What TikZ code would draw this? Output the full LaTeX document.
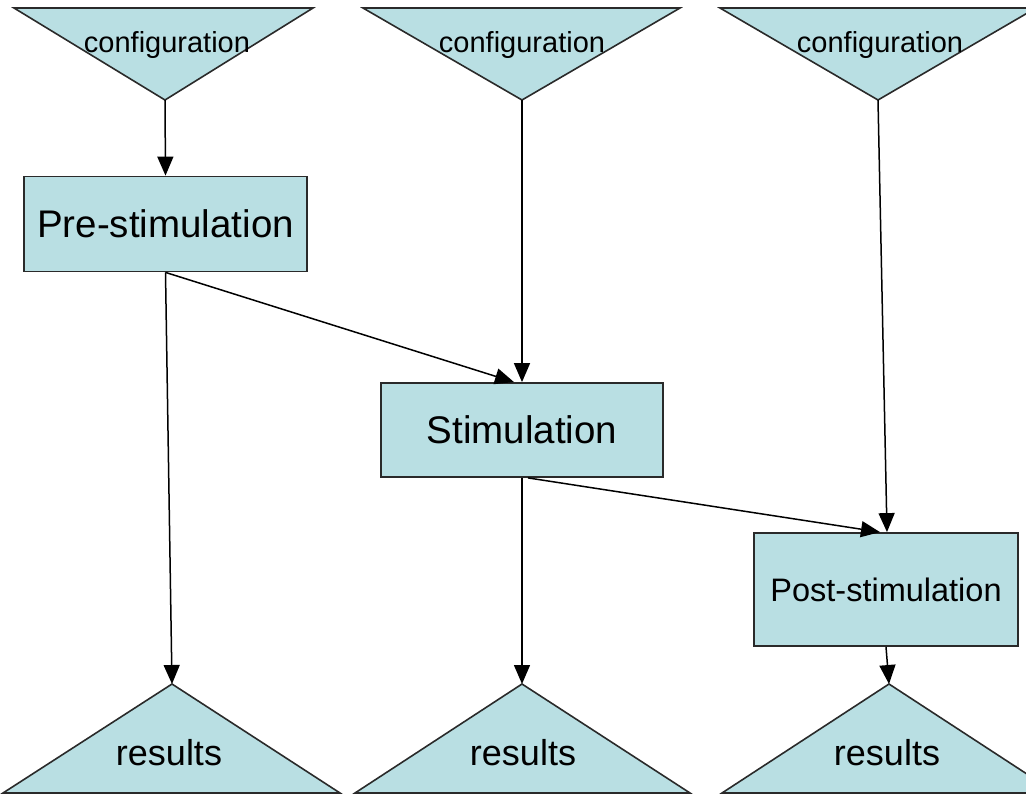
\documentclass[tikz,border=0pt]{standalone}
\usepackage{fontspec}
\setmainfont{Liberation Sans}
\usetikzlibrary{arrows.meta}
\definecolor{fillblue}{HTML}{B9DFE3}
\definecolor{edgegray}{HTML}{2A2A2A}
\tikzset{
  shapeline/.style={draw=edgegray, line width=1.6pt, fill=fillblue, line join=miter},
  procbox/.style={draw=edgegray, line width=1.8pt, fill=fillblue, inner sep=0pt},
  conn/.style={draw=black, line width=1.5pt, -{Triangle[length=19pt,width=16pt]}},
  cfgtext/.style={font=\fontsize{29}{29}\selectfont},
  restext/.style={font=\fontsize{36}{36}\selectfont},
}
\begin{document}
\begin{tikzpicture}[x=1pt,y=-1pt]
\useasboundingbox (0,0) rectangle (1026,796);
\clip (0,0) rectangle (1026,796);
% configuration triangles
\path[shapeline] (14,8) -- (313,8) -- (165,100) -- cycle;
\path[shapeline] (363,8) -- (680,8) -- (522,100) -- cycle;
\path[shapeline] (720,8) -- (1036,8) -- (878,100) -- cycle;
\coordinate (c1) at (165,100);
\coordinate (c2) at (522,100);
\coordinate (c3) at (878,100);
\node[cfgtext] (t1) at (167,45) {configuration};
\node[cfgtext] (t2) at (522,45) {configuration};
\node[cfgtext] (t3) at (880,45) {configuration};
% results triangles
\path[shapeline] (3,793) -- (340,793) -- (172,684) -- cycle;
\path[shapeline] (355,793) -- (690,793) -- (522,684) -- cycle;
\path[shapeline] (722,793) -- (1056,793) -- (889,684) -- cycle;
\coordinate (r1) at (172,684);
\coordinate (r2) at (522,684);
\coordinate (r3) at (889,684);
\node[restext] (u1) at (169,753) {results};
\node[restext] (u2) at (523,753) {results};
\node[restext] (u3) at (887,753) {results};
% process boxes
\node[procbox, minimum width=283pt, minimum height=95pt, font=\fontsize{38.5}{38.5}\selectfont] (pre) at (165.5,224) {Pre-stimulation};
\node[procbox, minimum width=282pt, minimum height=94pt, font=\fontsize{38.5}{38.5}\selectfont] (stim) at (522,430) {Stimulation};
\node[procbox, minimum width=264pt, minimum height=113pt, font=\fontsize{32.5}{32.5}\selectfont] (post) at (886,589.5) {Post-stimulation};
% connectors
\draw[conn] (c1) -- (pre.north);
\draw[conn] (c2) -- (stim.north);
\draw[conn] (c3) -- ([xshift=1pt]post.north);
\draw[conn] (pre.south) -- ([xshift=-8pt]stim.north);
\draw[conn] (pre.south) -- (r1);
\draw[conn] (stim.south) -- (r2);
\draw[conn] ([xshift=6pt]stim.south) -- ([xshift=-6pt]post.north);
\draw[conn] (post.south) -- (r3);
\end{tikzpicture}
\end{document}
